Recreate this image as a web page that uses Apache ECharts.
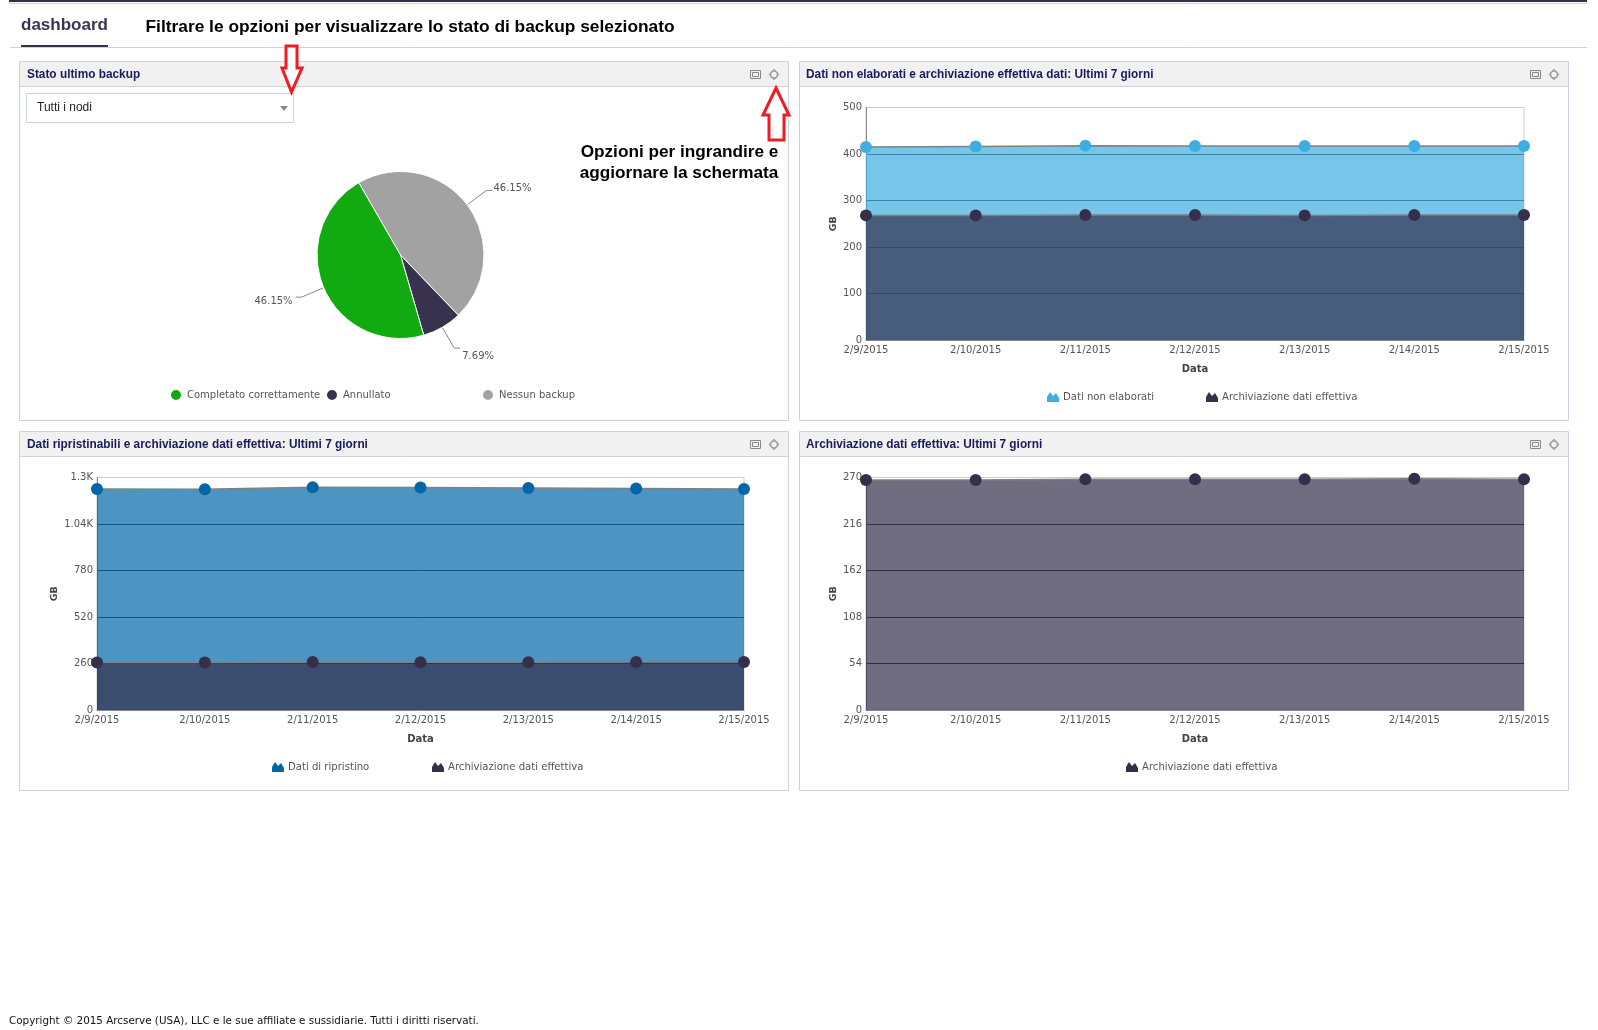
<!DOCTYPE html>
<html>
<head>
<meta charset="utf-8">
<title>dashboard</title>
<script src="https://cdn.jsdelivr.net/npm/echarts@6/dist/echarts.min.js"></script>
<style>
html, body { margin: 0; padding: 0; background: #fff; }
#main { width: 1598px; height: 1030px; }
</style>
</head>
<body>
<div id="main"></div>
<script>
// values
var days = ['2/9/2015', '2/10/2015', '2/11/2015', '2/12/2015', '2/13/2015', '2/14/2015', '2/15/2015']
var rawData = [415, 416, 418, 417, 417, 417, 417]
var rawStored = [268, 268, 269, 269, 268, 269, 269]
var restoreData = [1236, 1234, 1245, 1244, 1241, 1238, 1236]
var restoreStored = [266, 266, 268, 267, 267, 268, 268]
var storedOnly = [267, 267, 268, 268, 268, 268.5, 268]
var pieNames = ['Nessun backup', 'Annullato', 'Completato correttamente']
var pieValues = [46.15, 7.69, 46.15]
var titles = [
  'Stato ultimo backup',
  'Dati non elaborati e archiviazione effettiva dati: Ultimi 7 giorni',
  'Dati ripristinabili e archiviazione dati effettiva: Ultimi 7 giorni',
  'Archiviazione dati effettiva: Ultimi 7 giorni'
]

var DARK = '#352F4C'
var BORDER = '#CDD2DC'
var ARIAL = '"Liberation Sans", Arial, sans-serif'
var DEJAVU = '"DejaVu Sans", Verdana, sans-serif'
var MOUNTAIN = 'path://M0 10L0 5L3 0L6 4L9 1L12 6L12 10Z'

var chart = echarts.init(document.getElementById('main'), null, { renderer: 'canvas' })

var panels = [
  { x: 19, y: 61, w: 769, h: 359 },
  { x: 799, y: 61, w: 769, h: 359 },
  { x: 19, y: 431, w: 769, h: 359 },
  { x: 799, y: 431, w: 769, h: 359 }
]

function panelGraphics() {
  var out = []
  panels.forEach(function (p, i) {
    out.push({ type: 'rect', z: -2, shape: { x: p.x + .5, y: p.y + .5, width: p.w, height: p.h }, style: { fill: '#fff', stroke: BORDER } })
    out.push({ type: 'rect', z: -1, shape: { x: p.x + 1, y: p.y + 1, width: p.w - 1, height: 24 }, style: { fill: '#F1F1F1', stroke: null } })
    out.push({ type: 'line', z: -1, shape: { x1: p.x, y1: p.y + 25.5, x2: p.x + p.w, y2: p.y + 25.5 }, style: { stroke: BORDER } })
    out.push({ type: 'text', z: 5, style: { x: p.x + 8 - (i % 2), y: p.y + 14, text: titles[i], fill: '#1A1A5C', font: 'bold 11.85px ' + ARIAL, textVerticalAlign: 'middle' } })
    // maximize + refresh icons
    var ix = p.x + p.w - 38
    out.push({ type: 'rect', z: 5, shape: { x: ix + .5, y: p.y + 9.5, width: 10, height: 8 }, style: { fill: 'none', stroke: '#888' } })
    out.push({ type: 'rect', z: 5, shape: { x: ix + 2.5, y: p.y + 11.5, width: 6, height: 4 }, style: { fill: 'none', stroke: '#888' } })
    out.push({ type: 'circle', z: 5, shape: { cx: p.x + p.w - 14, cy: p.y + 13.5, r: 3.5 }, style: { fill: 'none', stroke: '#999', lineWidth: 1.5 } })
    out.push({ type: 'polygon', z: 5, shape: { points: [[p.x + p.w - 14, p.y + 8], [p.x + p.w - 9, p.y + 13.5], [p.x + p.w - 14, p.y + 19], [p.x + p.w - 19, p.y + 13.5]] }, style: { fill: 'none', stroke: '#aaa' } })
  })
  return out
}

function pageGraphics() {
  return [
    { type: 'rect', shape: { x: 9, y: 0, width: 1578, height: 2 }, style: { fill: DARK } },
    { type: 'line', shape: { x1: 9, y1: 3.5, x2: 1587, y2: 3.5 }, style: { stroke: BORDER } },
    { type: 'text', style: { x: 21, y: 25, text: 'dashboard', fill: '#3A3550', font: 'bold 17px ' + ARIAL, textVerticalAlign: 'middle' } },
    { type: 'rect', shape: { x: 21, y: 45, width: 87, height: 2 }, style: { fill: DARK } },
    { type: 'line', shape: { x1: 10, y1: 47.5, x2: 1587, y2: 47.5 }, style: { stroke: BORDER } },
    { type: 'text', style: { x: 145.5, y: 27.5, text: 'Filtrare le opzioni per visualizzare lo stato di backup selezionato', fill: '#000', font: 'bold 17.35px ' + ARIAL, textVerticalAlign: 'middle' } },
    { type: 'text', z: 6, style: { x: 679.5, y: 152.5, text: 'Opzioni per ingrandire e', fill: '#000', font: 'bold 17.2px ' + ARIAL, textAlign: 'center', textVerticalAlign: 'middle' } },
    { type: 'text', z: 6, style: { x: 679, y: 173.5, text: 'aggiornare la schermata', fill: '#000', font: 'bold 17.2px ' + ARIAL, textAlign: 'center', textVerticalAlign: 'middle' } },
    // node select box
    { type: 'rect', z: 5, shape: { x: 26.5, y: 93.5, width: 267, height: 29 }, style: { fill: '#fff', stroke: BORDER } },
    { type: 'text', z: 6, style: { x: 37, y: 108, text: 'Tutti i nodi', fill: '#222', font: '12px ' + ARIAL, textVerticalAlign: 'middle' } },
    { type: 'polygon', z: 6, shape: { points: [[280, 106], [288, 106], [284, 111]] }, style: { fill: '#888' } },
    // red arrows
    { type: 'polygon', z: 100, shape: { points: [[286, 46], [297, 46], [297, 68], [302, 68], [291.5, 92], [282, 68], [286, 68]] }, style: { fill: '#fff', stroke: '#EE1C25', lineWidth: 3 } },
    { type: 'polygon', z: 100, shape: { points: [[776, 88], [789, 115], [784, 115], [784, 140], [769, 140], [769, 115], [763, 115]] }, style: { fill: '#fff', stroke: '#EE1C25', lineWidth: 3 } },
    { type: 'text', style: { x: 9, y: 1021.5, text: 'Copyright © 2015 Arcserve (USA), LLC e le sue affiliate e sussidiarie. Tutti i diritti riservati.', fill: '#111', font: '10.37px ' + DEJAVU, textVerticalAlign: 'middle' } }
  ]
}

function xAxis(gridIndex) {
  return {
    type: 'category',
    gridIndex: gridIndex,
    data: days,
    boundaryGap: false,
    name: 'Data',
    nameLocation: 'middle',
    nameGap: 24,
    nameTextStyle: { color: '#444', fontFamily: DEJAVU, fontSize: 10, fontWeight: 'bold' },
    axisLine: { lineStyle: { color: '#888' } },
    axisTick: { show: false },
    axisLabel: { interval: 0, margin: 5, color: '#555', fontFamily: DEJAVU, fontSize: 10 },
    splitLine: { show: false }
  }
}

function yAxis(gridIndex, max, interval, nameGap) {
  return {
    type: 'value',
    gridIndex: gridIndex,
    min: 0,
    max: max,
    interval: interval,
    name: 'GB',
    nameLocation: 'middle',
    nameGap: nameGap,
    nameTextStyle: { color: '#444', fontFamily: DEJAVU, fontSize: 9.5, fontWeight: 'bold' },
    axisLine: { show: true, lineStyle: { color: '#888' } },
    axisTick: { show: false },
    axisLabel: {
      margin: 4,
      padding: [3, 0, 0, 0],
      color: '#555',
      fontFamily: DEJAVU,
      fontSize: 10,
      formatter: function (v) { return v >= 1000 ? (v / 1000) + 'K' : v }
    },
    splitLine: { show: true, showMaxLine: false, showMinLine: false, lineStyle: { color: '#2c2c2c', opacity: 1 } }
  }
}

function areaSeries(name, values, color, gridIndex, z) {
  return {
    type: 'line',
    name: name,
    data: values,
    xAxisIndex: gridIndex,
    yAxisIndex: gridIndex,
    symbol: 'circle',
    symbolSize: 12,
    showSymbol: true,
    clip: false,
    z: z,
    itemStyle: { color: color, borderWidth: 0 },
    lineStyle: { color: '#808080', width: 1.5 },
    areaStyle: { color: color, opacity: .7 }
  }
}

function areaLegend(name, left, top, color) {
  return {
    data: [{ name: name, icon: MOUNTAIN, itemStyle: { color: color, borderWidth: 0 } }],
    left: left,
    top: top,
    orient: 'horizontal',
    padding: 0,
    itemWidth: 12,
    itemHeight: 10,
    itemGap: 0,
    selectedMode: false,
    textStyle: { color: '#555', fontFamily: DEJAVU, fontSize: 10.1, padding: [0, 0, 0, -1] }
  }
}

function pieLegend(name, left) {
  return {
    data: [{ name: name, icon: 'circle' }],
    left: left,
    top: 388,
    padding: 0,
    itemWidth: 12,
    itemHeight: 12,
    itemGap: 0,
    selectedMode: false,
    textStyle: { color: '#555', fontFamily: DEJAVU, fontSize: 10 }
  }
}

// nudges for the pie's outside labels, in the order of pieNames
var pieNudge = [[-4, -2], [-3, 8], [2, 4]]

var option = {
  animation: false,
  backgroundColor: '#fff',
  graphic: { elements: panelGraphics().concat(pageGraphics()) },
  grid: [
    { left: 866, top: 107.5, width: 658, height: 232.5, show: true, borderColor: '#ccc', backgroundColor: 'transparent' },
    { left: 97, top: 477.5, width: 647, height: 232.5, show: true, borderColor: '#ccc', backgroundColor: 'transparent' },
    { left: 866, top: 477.5, width: 658, height: 232.5, show: true, borderColor: '#ccc', backgroundColor: 'transparent' }
  ],
  xAxis: [xAxis(0), xAxis(1), xAxis(2)],
  yAxis: [yAxis(0, 500, 100, 27), yAxis(1, 1300, 260, 37), yAxis(2, 270, 54, 27)],
  legend: [
    pieLegend('Completato correttamente', 169),
    pieLegend('Annullato', 325),
    pieLegend('Nessun backup', 481),
    areaLegend('Dati non elaborati', 1047, 392, '#3DAEDF'),
    areaLegend('Archiviazione dati effettiva', 1206, 392, DARK),
    areaLegend('Dati di ripristino', 272, 762, '#0066A6'),
    areaLegend('Archiviazione dati effettiva', 432, 762, DARK),
    areaLegend('Archiviazione dati effettiva', 1126, 762, DARK)
  ],
  series: [
    {
      type: 'pie',
      center: [400.5, 255],
      radius: 83.5,
      startAngle: 120,
      data: pieNames.map(function (n, i) { return { name: n, value: pieValues[i] } }),
      color: ['#A2A2A2', '#38324E', '#11AA11'],
      itemStyle: { borderColor: '#fff', borderWidth: 1 },
      label: { formatter: '{c}%', color: '#555', fontFamily: DEJAVU, fontSize: 10 },
      labelLine: { length: 24, length2: 6, lineStyle: { color: '#888', width: 1 } },
      labelLayout: function (params) {
        var n = pieNudge[params.dataIndex]
        return { dx: n[0], dy: n[1] }
      }
    },
    areaSeries('Dati non elaborati', rawData, '#3DAEDF', 0, 2),
    areaSeries('Archiviazione dati effettiva', rawStored, DARK, 0, 3),
    areaSeries('Dati di ripristino', restoreData, '#0066A6', 1, 2),
    areaSeries('Archiviazione dati effettiva', restoreStored, DARK, 1, 3),
    areaSeries('Archiviazione dati effettiva', storedOnly, DARK, 2, 2)
  ]
}

chart.setOption(option)
</script>
</body>
</html>
